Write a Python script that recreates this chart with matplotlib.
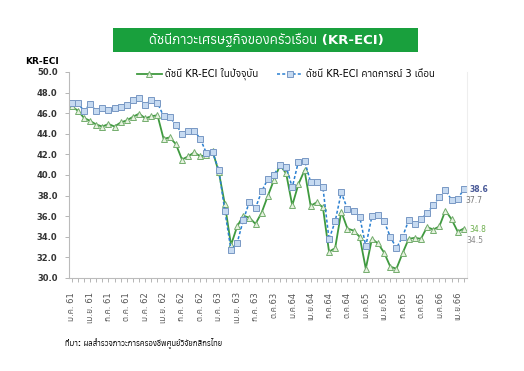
import numpy as np
import matplotlib
matplotlib.use('Agg')
import matplotlib.pyplot as plt
from matplotlib import font_manager as fm
from matplotlib.ft2font import FT2Font
from matplotlib.patches import Rectangle

# font che contiene il thai (se esiste)
thai_fonts = []
for f in fm.fontManager.ttflist:
    try:
        if 0x0E01 in FT2Font(f.fname).get_charmap():
            thai_fonts.append(f.name)
    except Exception:
        pass
plt.rcParams['font.family'] = ['DejaVu Sans'] + sorted(set(thai_fonts))[:2]

# dati
tick_labels = ['ม.ค. 61', 'เม.ย. 61', 'ก.ค. 61', 'ต.ค. 61', 'ม.ค. 62', 'เม.ย. 62', 'ก.ค. 62', 'ต.ค. 62',
               'ม.ค. 63', 'เม.ย. 63', 'ก.ค. 63', 'ต.ค.63', 'ม.ค.64', 'เม.ย.64', 'ก.ค.64', 'ต.ค.64',
               'ม.ค.65', 'เม.ย.65', 'ก.ค.65', 'ต.ค.65', 'ม.ค.66', 'เม.ย.66']
current = [46.65, 46.25, 45.55, 45.25, 44.9, 44.7, 44.95, 44.7, 45.1, 45.3, 45.65, 45.95, 45.5, 45.7, 45.8,
           43.5, 43.65, 43.0, 41.5, 41.8, 42.2, 41.8, 41.95, 42.3, 40.3,
           37.15, 33.2, 35.0, 36.05, 35.85, 35.25, 36.35, 37.95, 39.5, 40.95,
           40.15, 37.05, 39.1, 40.45, 37.0, 37.35, 36.85, 32.55, 32.9, 36.45,
           34.8, 34.6, 34.0, 30.9, 33.8, 33.35, 32.45, 31.1, 30.9, 32.4,
           33.8, 33.9, 33.8, 34.95, 34.7, 35.0, 36.55, 35.7, 34.5, 34.8]
expected = [47.0, 47.0, 46.2, 46.9, 46.2, 46.5, 46.3, 46.5, 46.6, 46.8, 47.3, 47.5, 46.8, 47.3, 47.0,
            45.7, 45.6, 44.9, 44.0, 44.3, 44.3, 43.5, 42.1, 42.2, 40.5,
            36.5, 32.7, 33.4, 35.6, 37.4, 36.8, 38.4, 39.6, 40.0, 41.0,
            40.8, 38.8, 41.3, 41.4, 39.3, 39.35, 38.8, 33.75, 35.5, 38.3,
            36.7, 36.5, 35.95, 33.1, 36.0, 36.1, 35.5, 34.0, 32.9, 34.0,
            35.6, 35.2, 35.7, 36.3, 37.05, 37.85, 38.5, 37.6, 37.7, 38.6]

x = np.arange(len(current))

fig = plt.figure(figsize=(5.24, 3.71), dpi=100)
ax = fig.add_axes([0.131, 0.2507, 0.760, 0.5553])

ax.plot(x, current, color='#3f9a3f', lw=1.3, marker='^', ms=4.5, mfc='#e6f2df', mec='#74ad6e', mew=0.7,
        label='ดัชนี KR-ECI ในปัจจุบัน')
ax.plot(x, expected, color='#2a80d2', lw=1.1, ls=(0, (2, 1.4)), marker='s', ms=4.8, mfc='#c6daf1', mec='#7898c4',
        mew=0.7, label='ดัชนี KR-ECI คาดการณ์ 3 เดือน')

ax.set_xlim(-0.5, len(x) - 0.5)
ax.set_ylim(30, 50)
ax.set_yticks(np.arange(30, 50.1, 2))
ax.set_yticklabels([f'{v:.1f}' for v in np.arange(30, 50.1, 2)], fontsize=6, fontweight='bold', color='#333333')
ax.set_xticks(np.arange(0, len(x), 3))
ax.set_xticks(np.arange(len(x)), minor=True)
ax.set_xticklabels(tick_labels, rotation=90, fontsize=6, color='#555555')
ax.tick_params(axis='both', which='both', length=3, width=0.6, color='#aaaaaa', direction='out')
ax.tick_params(axis='x', which='major', pad=7)
ax.tick_params(axis='y', pad=5)
ax.spines['top'].set_visible(False)
ax.spines['right'].set_color('#eeeeee')
ax.spines['left'].set_color('#bbbbbb')
ax.spines['bottom'].set_color('#bbbbbb')

# valori finali
ax.text(len(x) - 0.1, expected[-1], f'{expected[-1]:.1f}', fontsize=5.5, fontweight='bold', color='#4a5a98',
        va='center', ha='left')
ax.text(len(x) - 0.7, expected[-2] - 0.15, f'{expected[-2]:.1f}', fontsize=5.5, color='#777777', va='center', ha='left')
ax.text(len(x) - 0.1, current[-1] - 0.1, f'{current[-1]:.1f}', fontsize=5.5, color='#6fb04f', va='center', ha='left')
ax.text(len(x) - 0.5, current[-2] - 0.9, f'{current[-2]:.1f}', fontsize=5.5, color='#888888', va='center', ha='left')

fig.legend(loc='center', bbox_to_anchor=(0.545, 0.80), ncol=2, frameon=False, fontsize=7,
           handlelength=2.6, columnspacing=2.0, handletextpad=0.3)

# titolo
fig.patches.append(Rectangle((113 / 524, 1 - 52 / 371), 305 / 524, 24 / 371, transform=fig.transFigure,
                             facecolor='#19a03d', edgecolor='none'))
fig.text(0.508, 1 - 40 / 371, 'ดัชนีภาวะเศรษฐกิจของครัวเรือน (KR-ECI)', ha='center', va='center',
         color='white', fontsize=9.5, fontweight='bold')
fig.text(25 / 524, 1 - 62 / 371, 'KR-ECI', fontsize=6.5, fontweight='bold', va='center', ha='left')
fig.text(65 / 524, 1 - 343 / 371, 'ที่มา: ผลสำรวจภาวะการครองชีพศูนย์วิจัยกสิกรไทย', fontsize=5.5,
         fontweight='bold', va='center', ha='left')

fig.savefig('out.png', dpi=100)
